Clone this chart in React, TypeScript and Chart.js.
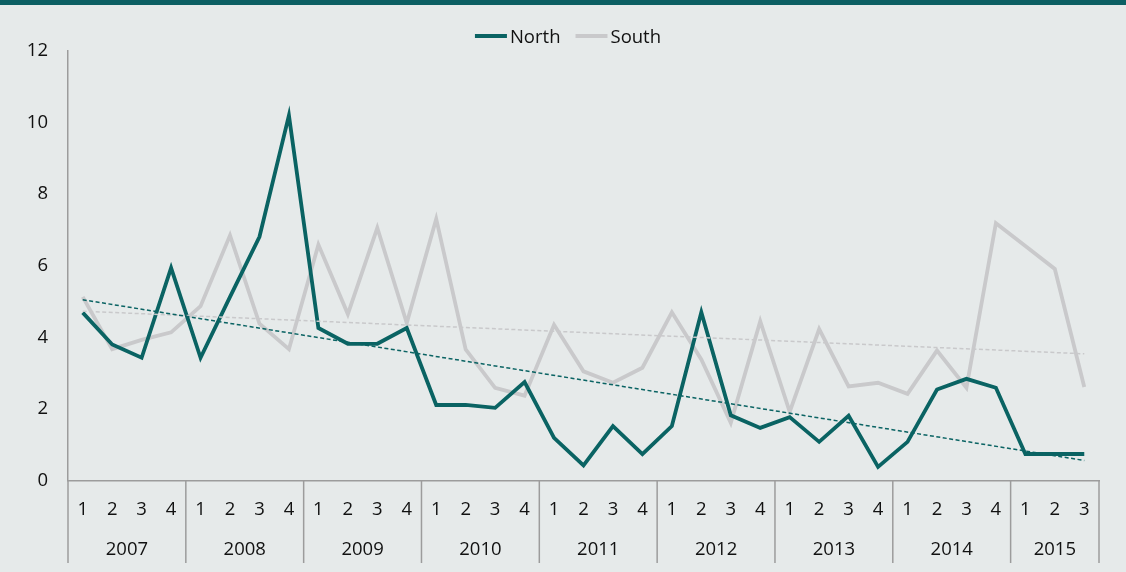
import React, { useEffect, useRef } from "react";
import { Chart, registerables } from "chart.js";

Chart.register(...registerables);

const years = ["2007", "2008", "2009", "2010", "2011", "2012", "2013", "2014", "2015"];
const quartersPerYear = [4, 4, 4, 4, 4, 4, 4, 4, 3];
const quarterNames = ["1", "2", "3", "4"];

const northValues = [
  4.69, 3.8, 3.43, 5.94,
  3.43, 5.13, 6.81, 10.2,
  4.26, 3.82, 3.82, 4.26,
  2.11, 2.11, 2.03, 2.75,
  1.19, 0.42, 1.52, 0.74,
  1.52, 4.7, 1.82, 1.47,
  1.77, 1.08, 1.81, 0.38,
  1.08, 2.54, 2.84, 2.59,
  0.74, 0.74, 0.74,
];

const southValues = [
  5.13, 3.67, 3.93, 4.14,
  4.87, 6.85, 4.38, 3.67,
  6.59, 4.65, 7.06, 4.4,
  7.31, 3.66, 2.59, 2.37,
  4.35, 3.05, 2.73, 3.15,
  4.7, 3.38, 1.61, 4.45,
  1.92, 4.23, 2.63, 2.73,
  2.42, 3.63, 2.59, 7.19,
  6.55, 5.91, 2.61,
];

// trend line end values (first and last quarter)
const northTrendEnds = [5.05, 0.56];
const southTrendEnds = [4.73, 3.54];

const yTicks = [0, 2, 4, 6, 8, 10, 12];

const TEAL = "#0A6363";
const GRAY = "#C9C9CB";
const AXIS = "#9C9C9C";
const TEXT = "#111111";
const FONT = "'Open Sans', sans-serif";
const FS = 18.5;

const quarterLabels: string[] = [];
quartersPerYear.forEach((n) => {
  for (let i = 0; i < n; i++) quarterLabels.push(quarterNames[i]);
});

function trendData(ends: number[]) {
  const arr: (number | null)[] = quarterLabels.map(() => null);
  arr[0] = ends[0];
  arr[arr.length - 1] = ends[1];
  return arr;
}

const decorPlugin = {
  id: "decor",
  afterDraw(chart: any) {
    const ctx = chart.ctx;
    const xs = chart.scales.x;
    const area = chart.chartArea;
    const step = xs.getPixelForValue(1) - xs.getPixelForValue(0);
    const edge = (i: number) => xs.getPixelForValue(i) - step / 2;
    ctx.save();
    ctx.strokeStyle = AXIS;
    ctx.lineWidth = 1.5;
    let idx = 0;
    const sepBottom = 563;
    const yearY = 550;
    for (let k = 0; k <= years.length; k++) {
      const x = edge(idx);
      ctx.beginPath();
      ctx.moveTo(x, area.bottom);
      ctx.lineTo(x, sepBottom);
      ctx.stroke();
      if (k < years.length) {
        const x2 = edge(idx + quartersPerYear[k]);
        ctx.fillStyle = TEXT;
        ctx.font = `${FS}px ${FONT}`;
        ctx.textAlign = "center";
        ctx.textBaseline = "middle";
        ctx.fillText(years[k], (x + x2) / 2, yearY);
        idx += quartersPerYear[k];
      }
    }
    const items = [
      { label: "North", color: TEAL },
      { label: "South", color: GRAY },
    ];
    ctx.font = `${FS}px ${FONT}`;
    const sampleW = 32;
    const gap = 3;
    const itemGap = 15;
    const widths = items.map((it) => sampleW + gap + ctx.measureText(it.label).width);
    const total = widths.reduce((a, b) => a + b, 0) + itemGap * (items.length - 1);
    let lx = chart.width / 2 + 5 - total / 2;
    const ly = 36;
    items.forEach((it, i) => {
      ctx.strokeStyle = it.color;
      ctx.lineWidth = 4;
      ctx.beginPath();
      ctx.moveTo(lx, ly);
      ctx.lineTo(lx + sampleW, ly);
      ctx.stroke();
      ctx.fillStyle = TEXT;
      ctx.textAlign = "left";
      ctx.textBaseline = "middle";
      ctx.fillText(it.label, lx + sampleW + gap, ly + 1.5);
      lx += widths[i] + itemGap;
    });
    ctx.restore();
  },
};

export default function App() {
  const ref = useRef<HTMLCanvasElement | null>(null);
  useEffect(() => {
    if (!ref.current) return;
    const chart = new Chart(ref.current, {
      type: "line",
      data: {
        labels: quarterLabels,
        datasets: [
          {
            label: "North trend",
            data: trendData(northTrendEnds),
            borderColor: TEAL,
            borderWidth: 1.5,
            borderDash: [4, 2.5],
            pointRadius: 0,
            spanGaps: true,
            order: 0,
          },
          {
            label: "South trend",
            data: trendData(southTrendEnds),
            borderColor: GRAY,
            borderWidth: 1.5,
            borderDash: [4, 2.5],
            pointRadius: 0,
            spanGaps: true,
            order: 1,
          },
          {
            label: "North",
            data: northValues,
            borderColor: TEAL,
            borderWidth: 3.8,
            pointRadius: 0,
            tension: 0,
            order: 2,
          },
          {
            label: "South",
            data: southValues,
            borderColor: GRAY,
            borderWidth: 3.8,
            pointRadius: 0,
            tension: 0,
            order: 3,
          },
        ],
      },
      options: {
        animation: false,
        responsive: false,
        maintainAspectRatio: false,
        layout: { padding: { top: 51, right: 27, left: 0, bottom: 0 } },
        plugins: {
          legend: { display: false },
          tooltip: { enabled: false },
        },
        scales: {
          x: {
            type: "category",
            offset: true,
            grid: { display: false, drawTicks: false },
            border: { display: true, color: AXIS, width: 1.5 },
            ticks: {
              color: TEXT,
              font: { family: FONT, size: FS },
              padding: 18,
              maxRotation: 0,
              autoSkip: false,
            },
            afterFit(scale: any) {
              scale.height = 91.5;
            },
          },
          y: {
            min: 0,
            max: 12,
            grid: { display: false, drawTicks: false },
            border: { display: true, color: AXIS, width: 1.5 },
            afterBuildTicks(scale: any) {
              scale.ticks = yTicks.map((v) => ({ value: v }));
            },
            ticks: {
              color: TEXT,
              font: { family: FONT, size: FS },
              padding: 20,
            },
            afterFit(scale: any) {
              scale.width = 68;
            },
          },
        },
      },
      plugins: [decorPlugin],
    });
    return () => chart.destroy();
  }, []);

  return (
    <div
      style={{
        position: "fixed",
        left: 0,
        top: 0,
        width: 1126,
        height: 572,
        background: "#E6EAEA",
        overflow: "hidden",
      }}
    >
      <div style={{ position: "absolute", left: 0, top: 0, width: 1126, height: 5, background: "#0C5F63" }} />
      <canvas ref={ref} width={1126} height={572} style={{ position: "absolute", left: 0, top: 0 }} />
    </div>
  );
}
